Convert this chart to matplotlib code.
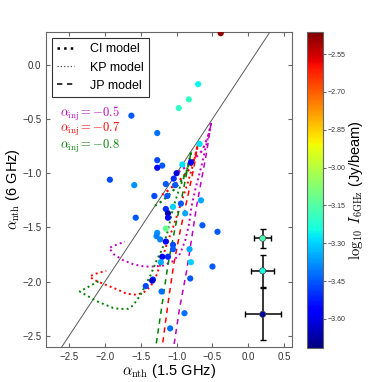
import numpy as np
import matplotlib
matplotlib.use("Agg")
import matplotlib.pyplot as plt
from matplotlib.lines import Line2D
from matplotlib.colors import Normalize

plt.rcParams['font.family'] = ['Liberation Sans', 'DejaVu Sans']
plt.rcParams['mathtext.fontset'] = 'cm'

# observed points: alpha(1.5 GHz), alpha(6 GHz), log10 I(6 GHz)
a_low = [-0.385, -0.70, -0.83, -0.97, -1.63, -1.27, -0.68, -1.27, -1.20, -1.27,
         -0.92, -0.80, -1.00, -1.93, -1.59, -1.15, -1.02, -1.04, -1.31, -1.13,
         -0.94, -1.05, -0.88, -0.66, -1.57, -1.15, -1.12, -1.12, -1.15, -1.27,
         -1.28, -1.23, -1.15, -1.05, -1.05, -1.12, -1.20, -1.22, -0.64, -0.43,
         -0.82, -0.80, -0.50, -0.81, -1.33, -1.43, -1.21, -0.89, -1.09, -1.34]
a_high = [0.29, -0.18, -0.32, -0.40, -0.47, -0.63, -0.73, -0.88, -0.93, -0.95,
          -0.92, -0.90, -1.00, -1.06, -1.11, -1.10, -1.11, -1.05, -1.21, -1.21,
          -1.28, -1.31, -1.37, -1.25, -1.41, -1.33, -1.37, -1.41, -1.51, -1.55,
          -1.58, -1.61, -1.63, -1.66, -1.70, -1.77, -1.77, -1.82, -1.48, -1.54,
          -1.70, -1.82, -1.86, -1.97, -1.98, -2.04, -2.09, -2.29, -2.43, -1.99]
log_I = [-2.48, -3.26, -3.20, -3.20, -3.45, -3.42, -3.28, -3.47, -3.45, -3.55,
         -3.28, -3.58, -3.62, -3.47, -3.38, -3.45, -3.45, -3.50, -3.47, -3.45,
         -3.45, -3.30, -3.35, -3.35, -3.45, -3.50, -3.66, -3.55, -3.12, -3.38,
         -3.40, -3.40, -3.55, -3.47, -3.45, -3.50, -3.58, -3.35, -3.45, -3.45,
         -3.35, -3.30, -3.45, -3.45, -3.50, -3.47, -3.42, -3.42, -3.42, -3.62]

# typical error bars
err_x = [0.2, 0.2, 0.2]
err_y = [-1.60, -1.90, -2.30]
err_dx = [0.115, 0.16, 0.25]
err_dy = [0.085, 0.145, 0.24]
err_I = [-3.17, -3.25, -3.68]

# model tracks for each injection index
inj_labels = [-0.5, -0.7, -0.8]
inj_colors = ['m', 'r', 'g']

ci_x = [[-0.52, -0.55, -0.60, -0.64, -0.74, -0.83, -0.91, -1.00],
        [-0.70, -0.72, -0.76, -0.82, -0.92, -1.02, -1.10, -1.20],
        [-0.80, -0.82, -0.86, -0.92, -1.02, -1.12, -1.21, -1.30]]
ci_y = [[-0.54, -0.64, -0.72, -0.79, -0.86, -0.92, -0.96, -1.00],
        [-0.71, -0.80, -0.88, -0.96, -1.04, -1.10, -1.15, -1.20],
        [-0.81, -0.90, -0.98, -1.06, -1.14, -1.21, -1.26, -1.30]]

kp_x = [[-0.52, -0.58, -0.66, -0.74, -0.79, -0.83, -0.88, -0.95, -1.05, -1.18,
         -1.30, -1.45, -1.60, -1.75, -1.87, -1.94, -1.84, -1.72],
        [-0.70, -0.76, -0.85, -0.95, -1.05, -1.14, -1.20, -1.28, -1.36, -1.46,
         -1.56, -1.70, -1.83, -2.02, -2.16, -2.21, -2.10, -1.98],
        [-0.80, -0.86, -0.95, -1.04, -1.13, -1.20, -1.27, -1.37, -1.51, -1.61,
         -1.68, -1.80, -1.89, -2.11, -2.35, -2.21, -2.07]]
kp_y = [[-0.54, -0.72, -0.95, -1.15, -1.30, -1.48, -1.62, -1.74, -1.81, -1.85,
         -1.86, -1.86, -1.84, -1.80, -1.75, -1.69, -1.66, -1.63],
        [-0.71, -0.90, -1.10, -1.30, -1.50, -1.66, -1.79, -1.94, -2.04, -2.10,
         -2.12, -2.11, -2.07, -2.02, -1.98, -1.95, -1.92, -1.90],
        [-0.81, -0.98, -1.12, -1.30, -1.55, -1.70, -1.79, -1.95, -2.13, -2.22,
         -2.25, -2.25, -2.24, -2.18, -2.09, -2.04, -1.99]]

jp_x = [[-0.52, -0.58, -0.65, -0.72, -0.79, -0.86, -0.96, -1.04],
        [-0.70, -0.76, -0.84, -0.94, -1.04, -1.12, -1.20],
        [-0.80, -0.86, -0.92, -1.02, -1.12, -1.20, -1.29]]
jp_y = [[-0.54, -0.80, -1.05, -1.30, -1.60, -1.90, -2.25, -2.60],
        [-0.71, -0.95, -1.20, -1.50, -1.84, -2.20, -2.60],
        [-0.81, -1.00, -1.20, -1.50, -1.84, -2.20, -2.60]]

fig = plt.figure(figsize=(3.9, 3.82), dpi=100)
ax = fig.add_axes([0.118, 0.092, 0.631, 0.824])
cax = fig.add_axes([0.787, 0.089, 0.041, 0.827])

norm = Normalize(vmin=-3.715, vmax=-2.463)
cmap = plt.get_cmap('jet')

# 1:1 line
ax.plot([-2.8, 0.6], [-2.8, 0.6], color='0.35', lw=0.7, zorder=1)

for i in range(3):
    c = inj_colors[i]
    ax.plot(ci_x[i], ci_y[i], color=c, ls=':', lw=1.6, zorder=2)
    ax.plot(kp_x[i], kp_y[i], color=c, ls=':', lw=1.4, zorder=2)
    ax.plot(jp_x[i], jp_y[i], color=c, ls=(0, (3.5, 3)), lw=1.1, zorder=2)

sc = ax.scatter(a_low, a_high, c=log_I, cmap=cmap, norm=norm, s=20,
                edgecolors='none', zorder=3)

ax.errorbar(err_x, err_y, xerr=err_dx, yerr=err_dy, fmt='none', ecolor='k',
            elinewidth=1.1, capsize=2, zorder=3)
ax.scatter(err_x, err_y, c=err_I, cmap=cmap, norm=norm, s=20,
           edgecolors='0.3', linewidths=0.5, zorder=4)

for i in range(3):
    ax.text(-2.63, -0.45 - 0.15 * i, r'$\alpha_{\rm inj} = %.1f$' % inj_labels[i],
            color=inj_colors[i], fontsize=9, va='center', ha='left')

handles = [Line2D([], [], color='k', ls=':', lw=1.8),
           Line2D([], [], color='0.3', ls=':', lw=0.9),
           Line2D([], [], color='k', ls=(0, (3.5, 3)), lw=1.1)]
leg = ax.legend(handles, ['CI model', 'KP model', 'JP model'], loc='upper left',
                fontsize=9, handlelength=1.3, handletextpad=1.3,
                borderaxespad=0.5, fancybox=False, framealpha=1)
leg.get_frame().set_edgecolor('0.2')
leg.get_frame().set_linewidth(0.8)

ax.set_xlim(-2.82, 0.61)
ax.set_ylim(-2.6, 0.3)
ax.set_xticks([-2.5, -2.0, -1.5, -1.0, -0.5, 0.0, 0.5])
ax.set_yticks([-2.5, -2.0, -1.5, -1.0, -0.5, 0.0])
ax.tick_params(direction='in', top=True, right=True, labelsize=7,
               length=3, color='0.4', labelcolor='0.2')
for s in ax.spines.values():
    s.set_color('0.4')
ax.set_xlabel(r'$\alpha_{\rm nth}$ (1.5 GHz)', fontsize=10.5, labelpad=0.5)
ax.set_ylabel(r'$\alpha_{\rm nth}$ (6 GHz)', fontsize=10.5, labelpad=0)

cb = fig.colorbar(sc, cax=cax)
cb.set_ticks([-2.55, -2.70, -2.85, -3.00, -3.15, -3.30, -3.45, -3.60])
cb.ax.tick_params(labelsize=5, length=2.5, pad=1, color='0.4', labelcolor='0.2')
cb.outline.set_edgecolor('0.4')
cb.set_label(r'$\log_{10}\ I_{\rm 6GHz}$ (Jy/beam)', fontsize=10.5, labelpad=1)

fig.savefig('out.png', dpi=100)
